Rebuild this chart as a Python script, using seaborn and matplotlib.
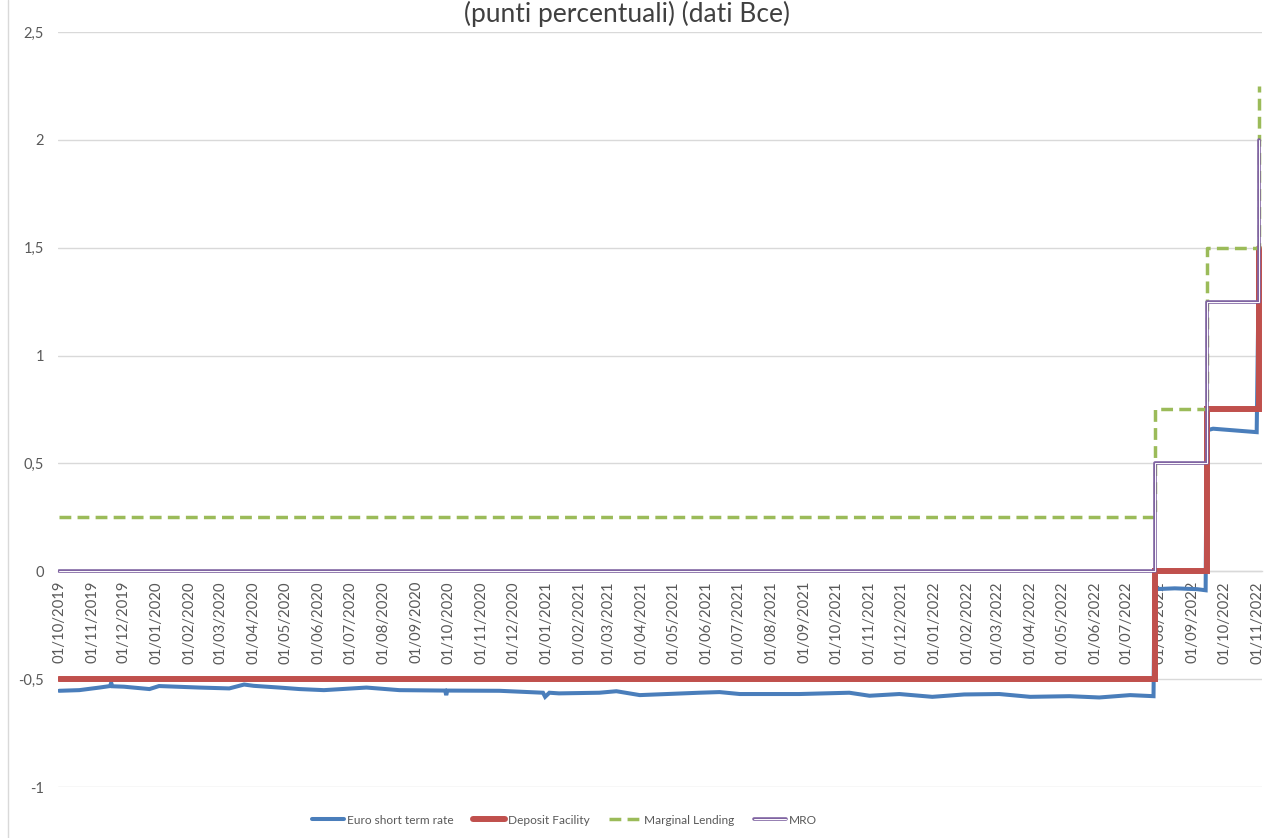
import matplotlib
matplotlib.use("Agg")
import pandas as pd
import matplotlib.pyplot as plt
import matplotlib.dates as mdates
import matplotlib.patheffects as pe
from matplotlib.ticker import FuncFormatter, MultipleLocator
from matplotlib.lines import Line2D
import seaborn as sns

# Euro short-term rate (€STR), percentage points
estr_dates = [
    "2019-10-01", "2019-10-20", "2019-11-08", "2019-11-18", "2019-11-19", "2019-11-20",
    "2019-12-01", "2019-12-25", "2020-01-03", "2020-02-10", "2020-03-09", "2020-03-23",
    "2020-04-01", "2020-04-25", "2020-05-14", "2020-06-06", "2020-07-16", "2020-08-16",
    "2020-09-28", "2020-09-29", "2020-09-30", "2020-11-18", "2020-12-29", "2020-12-31",
    "2021-01-04", "2021-01-13", "2021-02-20", "2021-03-08", "2021-03-30", "2021-05-25",
    "2021-06-13", "2021-07-02", "2021-08-27", "2021-10-13", "2021-11-01", "2021-11-29",
    "2021-12-30", "2022-01-29", "2022-03-03", "2022-04-01", "2022-05-08", "2022-06-05",
    "2022-07-04", "2022-07-26", "2022-07-27", "2022-08-15", "2022-09-05", "2022-09-13",
    "2022-09-14", "2022-09-20", "2022-10-31", "2022-11-02",
]
estr_values = [
    -0.554, -0.551, -0.539, -0.532, -0.517, -0.533,
    -0.535, -0.546, -0.532, -0.539, -0.543, -0.525,
    -0.531, -0.539, -0.546, -0.551, -0.539, -0.551,
    -0.553, -0.574, -0.553, -0.554, -0.563, -0.582,
    -0.563, -0.566, -0.563, -0.556, -0.574, -0.563,
    -0.560, -0.569, -0.569, -0.563, -0.577, -0.569,
    -0.582, -0.571, -0.569, -0.582, -0.579, -0.585,
    -0.574, -0.579, -0.083, -0.079, -0.083, -0.088,
    0.653, 0.661, 0.645, 1.400,
]

# ECB policy rates, effective dates of changes
policy_dates = ["2019-10-01", "2022-07-27", "2022-09-14", "2022-11-02"]
deposit_facility = [-0.50, 0.00, 0.75, 1.50]
marginal_lending = [0.25, 0.75, 1.50, 2.25]
mro = [0.00, 0.50, 1.25, 2.00]

series_labels = ["Euro short term rate", "Deposit Facility", "Marginal Lending", "MRO"]
title_text = "(punti percentuali) (dati Bce)"

BLUE = "#4A7EBB"
RED = "#C0504D"
GREEN = "#9BBB59"
PURPLE = "#8064A2"
GRID = "#D9D9D9"
TEXT = "#595959"

sns.set_style("white")
plt.rcParams["font.family"] = ["Lato", "DejaVu Sans"]

estr = pd.DataFrame({"date": pd.to_datetime(estr_dates), "rate": estr_values})
policy = pd.DataFrame({
    "date": pd.to_datetime(policy_dates),
    "deposit": deposit_facility,
    "lending": marginal_lending,
    "mro": mro,
})

fig = plt.figure(figsize=(12.67, 8.38), dpi=100)
ax = fig.add_axes([58 / 1267, 51 / 838, 1204 / 1267, 755 / 838])

sns.lineplot(data=estr, x="date", y="rate", ax=ax, color=BLUE, linewidth=2.9,
             estimator=None, label=series_labels[0], legend=False,
             solid_joinstyle="miter")
sns.lineplot(data=policy, x="date", y="deposit", ax=ax, color=RED, linewidth=4.3,
             estimator=None, drawstyle="steps-post", label=series_labels[1],
             legend=False, solid_joinstyle="miter")
sns.lineplot(data=policy, x="date", y="lending", ax=ax, color=GREEN, linewidth=2.5,
             estimator=None, drawstyle="steps-post", label=series_labels[2],
             legend=False, linestyle=(0, (3.4, 1.8)))
sns.lineplot(data=policy, x="date", y="mro", ax=ax, color="white", linewidth=0.7,
             estimator=None, drawstyle="steps-post", label=series_labels[3],
             legend=False,
             path_effects=[pe.Stroke(linewidth=2.6, foreground=PURPLE), pe.Normal()])

ax.set_ylim(-1, 2.5)
ax.set_xlim(pd.Timestamp("2019-09-30"), pd.Timestamp("2022-11-05"))
ax.yaxis.set_major_locator(MultipleLocator(0.5))
ax.yaxis.set_major_formatter(FuncFormatter(lambda v, _: f"{v:g}".replace(".", ",")))
ax.grid(axis="y", color=GRID, linewidth=1)
ax.grid(axis="x", visible=False)
ax.set_axisbelow(True)

month_ticks = pd.date_range("2019-10-01", "2022-11-01", freq="MS")
ax.set_xticks(month_ticks)
ax.xaxis.set_major_formatter(mdates.DateFormatter("%d/%m/%Y"))
ax.set_xlabel("")
ax.set_ylabel("")

for side in ["top", "right", "left"]:
    ax.spines[side].set_visible(False)
ax.spines["bottom"].set_position(("data", 0))
ax.spines["bottom"].set_color(GRID)
ax.spines["bottom"].set_linewidth(1)
ax.spines["bottom"].set_zorder(0.5)

ax.tick_params(axis="x", direction="out", length=4, width=1, color=GRID,
               labelsize=10.7, labelcolor=TEXT, labelrotation=90, pad=3)
ax.tick_params(axis="y", length=0, labelsize=10.5, labelcolor=TEXT, pad=10)

# chart area left border
fig.add_artist(Line2D([8 / 1267, 8 / 1267], [0, 1], transform=fig.transFigure,
                      color=GRID, linewidth=1))

fig.text(627 / 1267, 1 - 1 / 838, title_text, ha="center", va="top",
         fontsize=19, color="#404040")

handles = ax.get_lines()[:4]
fig.legend(handles, series_labels, loc="center left",
           bbox_to_anchor=(306 / 1267, 18 / 838), bbox_transform=fig.transFigure,
           ncol=4, frameon=False, fontsize=8.6, handlelength=2.7,
           handletextpad=0.25, columnspacing=1.6, borderpad=0, labelcolor=TEXT)

fig.savefig("out.png", dpi=100)
